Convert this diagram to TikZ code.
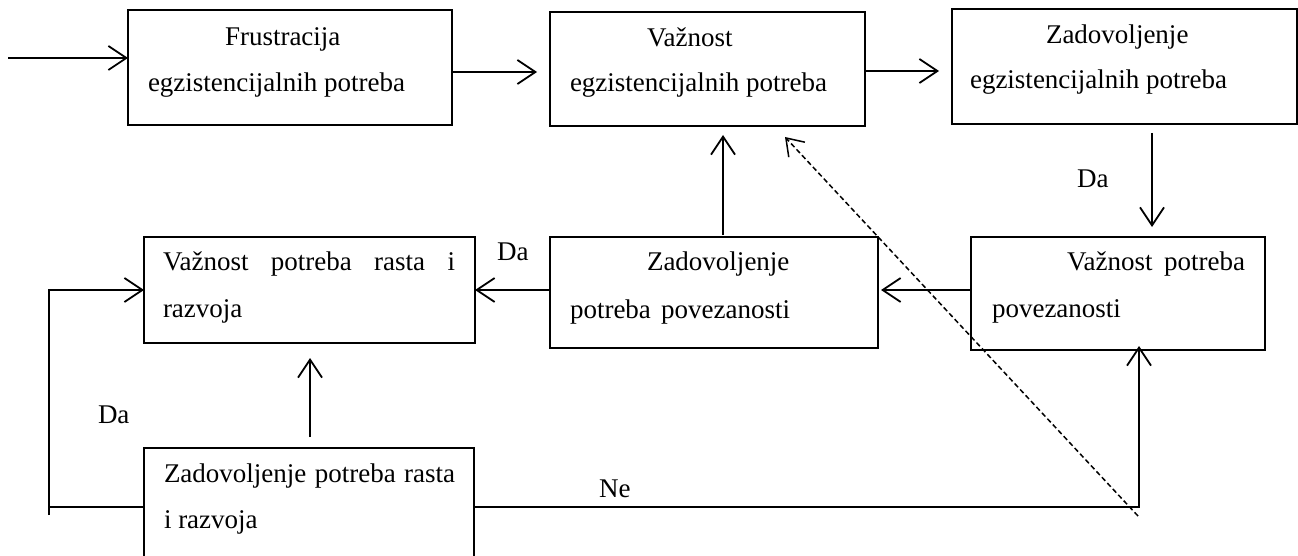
\documentclass[tikz,border=0pt]{standalone}
\usepackage{fontspec}
\setmainfont{Liberation Serif}
\usetikzlibrary{arrows.meta}
\begin{document}
\begin{tikzpicture}[x=1pt,y=-1pt,
  box/.style={draw, line width=1.6pt, inner sep=0pt, outer sep=0pt, anchor=north west},
  txt/.style={anchor=base west, inner sep=0pt, outer sep=0pt, font=\fontsize{27pt}{32pt}\selectfont},
  arr/.style={line width=1.8pt, -{Straight Barb[length=18pt,width=24pt]}},
  ln/.style={line width=1.8pt},
  dsh/.style={line width=1.5pt, dash pattern=on 5pt off 3pt, -{Straight Barb[length=16pt,width=22pt]}}]
\path[use as bounding box] (0,0) rectangle (1298,556);
\clip (0,0) rectangle (1298,556);

% boxes
\node[box, minimum width=324pt, minimum height=115pt] (A) at (128,10) {};
\node[box, minimum width=315pt, minimum height=114pt] (B) at (550,12) {};
\node[box, minimum width=345pt, minimum height=115pt] (C) at (952,9) {};
\node[box, minimum width=331pt, minimum height=106pt] (D) at (144,237) {};
\node[box, minimum width=328pt, minimum height=111pt] (E) at (550,237) {};
\node[box, minimum width=294pt, minimum height=113pt] (F) at (971,237) {};
\node[box, minimum width=330pt, minimum height=140pt] (G) at (144,448) {};

% texts
\node[txt] (A1) at (225,46) {Frustracija};
\node[txt] (A2) at (148,92) {egzistencijalnih potreba};
\node[txt] (B1) at (647,47) {Važnost};
\node[txt] (B2) at (570,92) {egzistencijalnih potreba};
\node[txt] (C1) at (1046,44) {Zadovoljenje};
\node[txt] (C2) at (970,89) {egzistencijalnih potreba};
\node[txt] (D1) at (163,270) {\makebox[292pt][s]{Važnost potreba rasta i}};
\node[txt] (D2) at (163,317) {razvoja};
\node[txt] (E1) at (647,270) {Zadovoljenje};
\node[txt] (E2) at (570,318) {\makebox[220pt][s]{potreba povezanosti}};
\node[txt] (F1) at (1067,270) {\makebox[178pt][s]{Važnost potreba}};
\node[txt] (F2) at (992,317) {povezanosti};
\node[txt] (G1) at (164,482) {\makebox[291pt][s]{Zadovoljenje potreba rasta}};
\node[txt] (G2) at (164,528) {i razvoja};

% labels
\node[txt] (da1) at (1077,188) {Da};
\node[txt] (da2) at (497,260) {Da};
\node[txt] (da3) at (98,423) {Da};
\node[txt] (ne) at (599,497) {Ne};

% helper coordinates
\coordinate (in) at (8,58);
\coordinate (yAB) at (0,72);
\coordinate (yBC) at (0,71);
\coordinate (xCF) at (1152,0);
\coordinate (yM) at (0,290);
\coordinate (xEB) at (723,0);
\coordinate (xGD) at (310,0);
\coordinate (lb) at (49,515);
\coordinate (lc) at (49,507);
\coordinate (rc) at (1139,507);
\coordinate (ds) at (1138,516);
\coordinate (de) at (785,137);

% connectors
\draw[arr] (in) -- (in -| A.west);
\draw[arr, shorten >=13pt] (A.east |- yAB) -- (B.west |- yAB);
\draw[arr, shorten >=13pt] (B.east |- yBC) -- (C.west |- yBC);
\draw[arr, shorten <=9pt, shorten >=10pt] (C.south -| xCF) -- (F.north -| xCF);
\draw[arr, shorten >=3pt] (F.west |- yM) -- (E.east |- yM);
\draw[arr] (E.west |- yM) -- (D.east |- yM);
\draw[arr, shorten <=2pt, shorten >=9pt] (E.north -| xEB) -- (B.south -| xEB);
\draw[arr, shorten <=11pt, shorten >=15pt] (G.north -| xGD) -- (D.south -| xGD);
\draw[ln] (G.west |- lc) -- (lc);
\draw[arr] (lb) |- (D.west |- yM);
\draw[arr, shorten >=-4pt] (G.east |- rc) -| (F.south -| rc);
\draw[dsh] (ds) -- (de);
\end{tikzpicture}
\end{document}
